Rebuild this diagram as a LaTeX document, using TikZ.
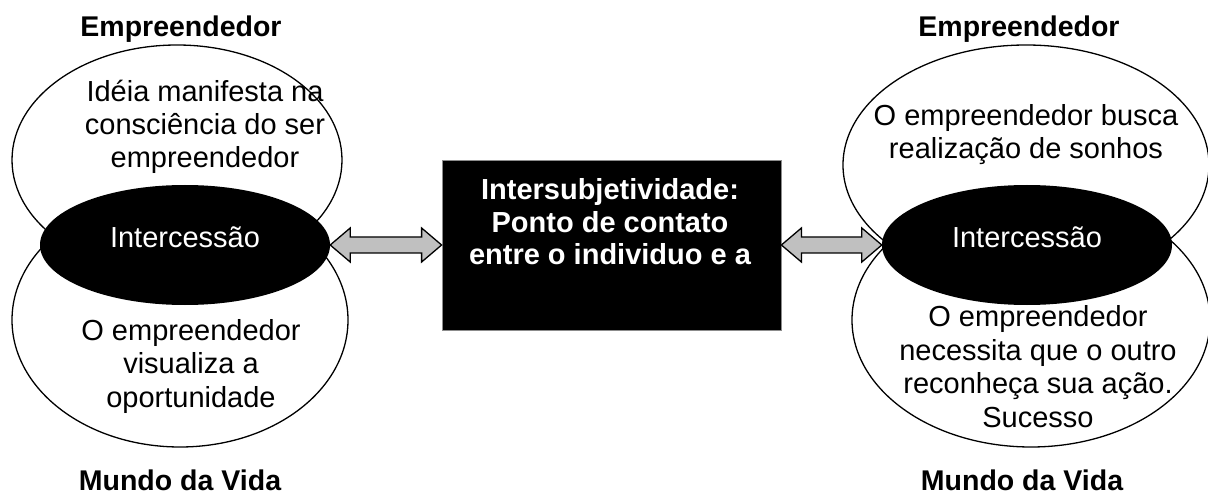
\documentclass[tikz,border=0pt]{standalone}
\usepackage{fontspec}
\setmainfont{Liberation Sans}
\usetikzlibrary{calc,shapes.geometric}
\definecolor{arrowgray}{RGB}{192,192,192}
\definecolor{boxedge}{RGB}{140,140,140}
\tikzset{
  txt/.style={font=\fontsize{29}{33.4}\selectfont, align=center, inner sep=0pt, anchor=base},
  ttl/.style={font=\fontsize{28.5}{32}\selectfont\bfseries, inner sep=0pt, anchor=base},
  bubble/.style={ellipse, draw=black, line width=1.3pt, fill=white, inner sep=0pt},
  interell/.style={ellipse, fill=black, text=white, inner sep=0pt,
     minimum width=290pt, minimum height=120pt,
     font=\fontsize{29}{33.4}\selectfont, text height=20pt, text depth=14pt},
  blockarrow/.style={fill=arrowgray, draw=black, line width=1.3pt, line join=miter}
}
\newcommand\dblblock[2]{%
  \path[blockarrow] let \p1=(#1), \p2=(#2) in
    (\x1,\y1) -- (\x1+20pt,\y1+17pt) -- (\x1+20pt,\y1+8pt) -- (\x2-20pt,\y1+8pt)
    -- (\x2-20pt,\y1+17pt) -- (\x2,\y1) -- (\x2-20pt,\y1-17pt) -- (\x2-20pt,\y1-8pt)
    -- (\x1+20pt,\y1-8pt) -- (\x1+20pt,\y1-17pt) -- cycle;}
\begin{document}
\begin{tikzpicture}[x=1pt,y=-1pt]
\useasboundingbox (0,0) rectangle (1208,497);
% left group
\node[bubble, minimum width=330pt, minimum height=230pt] (lt) at (177,160) {};
\node[bubble, minimum width=336pt, minimum height=254pt] (lb) at (180,320) {};
\node[interell] (il) at (185,245) {Intercessão};
% right group
\node[bubble, minimum width=366pt, minimum height=240pt] (rt) at (1026,165) {};
\node[bubble, minimum width=358pt, minimum height=254pt] (rb) at (1031,320) {};
\node[interell] (ir) at (1027,245) {Intercessão};
% central box
\node[draw=boxedge, line width=0.8pt, fill=black, minimum width=339pt, minimum height=170pt, inner sep=0pt] (box) at (611.5,245) {};
\node[txt, text=white, font=\fontsize{29}{32.5}\selectfont\bfseries] (boxtxt) at (610,265)
  {Intersubjetividade:\\Ponto de contato\\entre o individuo e a};
% texts
\node[txt] (ltt) at (205,168) {Idéia manifesta na\\consciência do ser\\empreendedor};
\node[txt] (lbt) at (191,407) {O empreendedor\\visualiza a\\oportunidade};
\node[txt] (rtt) at (1026,159) {O empreendedor busca\\realização de sonhos};
\node[txt] (rbt) at (1038,427) {O empreendedor\\necessita que o outro\\reconheça sua ação.\\Sucesso};
% titles
\node[ttl] (t1) at (181,37) {Empreendedor};
\node[ttl] (t2) at (1019,37) {Empreendedor};
\node[ttl] (m1) at (180,490) {Mundo da Vida};
\node[ttl] (m2) at (1022,490) {Mundo da Vida};
% arrows
\dblblock{il.east}{box.west}
\dblblock{box.east}{ir.west}
\end{tikzpicture}
\end{document}
